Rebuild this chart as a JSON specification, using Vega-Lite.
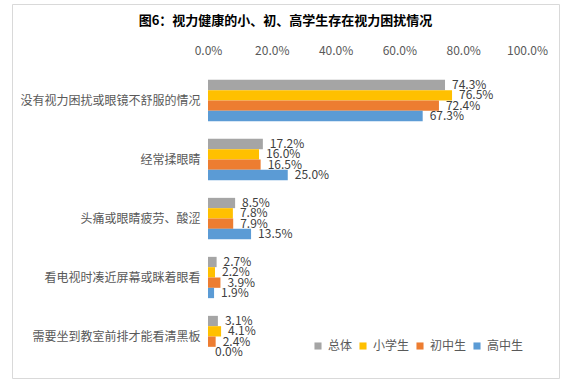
{
  "$schema": "https://vega.github.io/schema/vega-lite/v6.json",
  "autosize": {"type": "none"},
  "padding": {"left": 12, "top": 4, "right": 4, "bottom": 9},
  "width": 547,
  "height": 374,
  "title": {
    "text": "图6：视力健康的小、初、高学生存在视力困扰情况",
    "anchor": "middle",
    "offset": -24,
    "font": "Noto Sans CJK SC",
    "fontSize": 13,
    "fontWeight": "bold",
    "color": "#000000"
  },
  "config": {
    "view": {"stroke": "#d9d9d9", "strokeWidth": 1},
    "font": "Noto Sans CJK SC"
  },
  "data": {
    "values": [
      {"category": "没有视力困扰或眼镜不舒服的情况", "series": "总体", "value": 0.743},
      {"category": "没有视力困扰或眼镜不舒服的情况", "series": "小学生", "value": 0.765},
      {"category": "没有视力困扰或眼镜不舒服的情况", "series": "初中生", "value": 0.724},
      {"category": "没有视力困扰或眼镜不舒服的情况", "series": "高中生", "value": 0.673},
      {"category": "经常揉眼睛", "series": "总体", "value": 0.172},
      {"category": "经常揉眼睛", "series": "小学生", "value": 0.160},
      {"category": "经常揉眼睛", "series": "初中生", "value": 0.165},
      {"category": "经常揉眼睛", "series": "高中生", "value": 0.250},
      {"category": "头痛或眼睛疲劳、酸涩", "series": "总体", "value": 0.085},
      {"category": "头痛或眼睛疲劳、酸涩", "series": "小学生", "value": 0.078},
      {"category": "头痛或眼睛疲劳、酸涩", "series": "初中生", "value": 0.079},
      {"category": "头痛或眼睛疲劳、酸涩", "series": "高中生", "value": 0.135},
      {"category": "看电视时凑近屏幕或眯着眼看", "series": "总体", "value": 0.027},
      {"category": "看电视时凑近屏幕或眯着眼看", "series": "小学生", "value": 0.022},
      {"category": "看电视时凑近屏幕或眯着眼看", "series": "初中生", "value": 0.039},
      {"category": "看电视时凑近屏幕或眯着眼看", "series": "高中生", "value": 0.019},
      {"category": "需要坐到教室前排才能看清黑板", "series": "总体", "value": 0.031},
      {"category": "需要坐到教室前排才能看清黑板", "series": "小学生", "value": 0.041},
      {"category": "需要坐到教室前排才能看清黑板", "series": "初中生", "value": 0.024},
      {"category": "需要坐到教室前排才能看清黑板", "series": "高中生", "value": 0.0}
    ]
  },
  "encoding": {
    "y": {
      "field": "category",
      "type": "nominal",
      "sort": ["没有视力困扰或眼镜不舒服的情况", "经常揉眼睛", "头痛或眼睛疲劳、酸涩", "看电视时凑近屏幕或眯着眼看", "需要坐到教室前排才能看清黑板"],
      "scale": {"range": [67, 362], "paddingInner": 0.3, "paddingOuter": 0.15},
      "axis": {
        "title": null,
        "orient": "left",
        "offset": -196,
        "domain": false,
        "ticks": false,
        "labelPadding": 8,
        "labelFontSize": 12,
        "labelColor": "#595959",
        "labelFont": "Noto Sans CJK SC",
        "labelLimit": 300
      }
    },
    "yOffset": {
      "field": "series",
      "type": "nominal",
      "sort": ["总体", "小学生", "初中生", "高中生"]
    },
    "x": {
      "field": "value",
      "type": "quantitative",
      "scale": {"domain": [0, 1], "range": [196, 515]},
      "axis": {
        "title": null,
        "orient": "top",
        "offset": -57,
        "format": ".1%",
        "values": [0, 0.2, 0.4, 0.6, 0.8, 1.0],
        "domain": false,
        "ticks": false,
        "grid": false,
        "labelFlush": false,
        "labelPadding": 4,
        "labelFontSize": 12,
        "labelColor": "#595959",
        "labelFont": "Noto Sans CJK SC"
      }
    }
  },
  "layer": [
    {
      "mark": {"type": "bar"},
      "encoding": {
        "color": {
          "field": "series",
          "type": "nominal",
          "sort": ["总体", "小学生", "初中生", "高中生"],
          "scale": {
            "domain": ["总体", "小学生", "初中生", "高中生"],
            "range": ["#A5A5A5", "#FFC000", "#ED7D31", "#5B9BD5"]
          },
          "legend": {
            "title": null,
            "orient": "none",
            "legendX": 300,
            "legendY": 336,
            "direction": "horizontal",
            "symbolType": "square",
            "symbolSize": 50,
            "symbolStrokeWidth": 0,
            "labelFontSize": 12,
            "labelColor": "#595959",
            "labelFont": "Noto Sans CJK SC",
            "labelOffset": 4,
            "columnPadding": 4,
            "padding": 0
          }
        }
      }
    },
    {
      "mark": {"type": "text", "align": "left", "baseline": "middle", "dx": 7, "fontSize": 12, "color": "#404040", "font": "Noto Sans CJK SC"},
      "encoding": {
        "text": {"field": "value", "type": "quantitative", "format": ".1%"}
      }
    }
  ]
}
